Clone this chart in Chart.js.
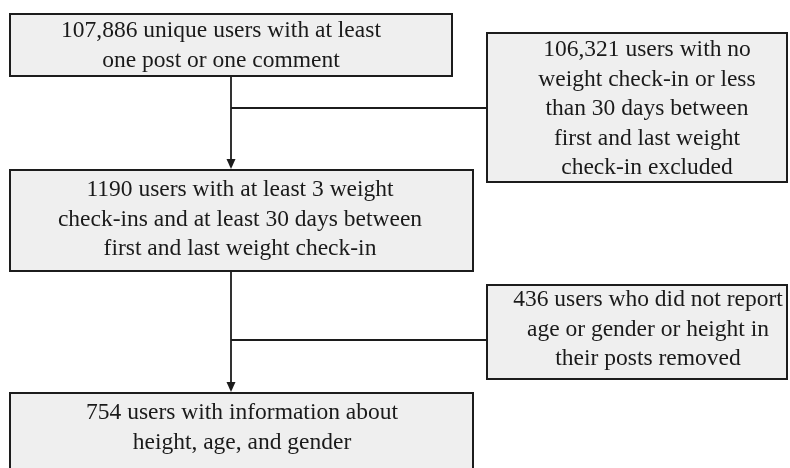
<!DOCTYPE html>
<html>
<head>
<meta charset="utf-8">
<script src="https://cdn.jsdelivr.net/npm/chart.js@4"></script>
<style>
html,body{margin:0;padding:0;background:#fff;}
#wrap{width:790px;height:468px;position:relative;}
</style>
</head>
<body>
<div id="wrap"><canvas id="c" width="790" height="468"></canvas></div>
<script>
// ---- data ----
const stageCounts = [107886, 1190, 754];
const stageTexts = [
  ["{n} unique users with at least", "one post or one comment"],
  ["{n} users with at least 3 weight", "check-ins and at least 30 days between", "first and last weight check-in"],
  ["{n} users with information about", "height, age, and gender"]
];
const excludedCounts = [106321, 436];
const excludedTexts = [
  ["{n} users with no", "weight check-in or less", "than 30 days between", "first and last weight", "check-in excluded"],
  ["{n} users who did not report", "age or gender or height in", "their posts removed"]
];

// ---- layout (positions in chart units, separate from data) ----
const stageBoxes = [
  {x0: 10, x1: 452, y0: 14, y1: 76, tx: 221, ty: 31},
  {x0: 10, x1: 473, y0: 170, y1: 271, tx: 240, ty: 190},
  {x0: 10, x1: 473, y0: 393, y1: 480, tx: 242, ty: 413}
];
const excludedBoxes = [
  {x0: 487, x1: 787, y0: 33, y1: 182, tx: 647, ty: 50},
  {x0: 487, x1: 787, y0: 285, y1: 379, tx: 648, ty: 300}
];
const trunkX = 231;
const branchY = [108, 340];
const lineH = 29.5;

function fmt(n){ return n >= 10000 ? n.toLocaleString('en-US') : String(n); }

const flowPlugin = {
  id: 'flow',
  afterDatasetsDraw(chart){
    const ctx = chart.ctx, xs = chart.scales.x, ys = chart.scales.y;
    const X = v => xs.getPixelForValue(v), Y = v => ys.getPixelForValue(v);
    ctx.save();
    ctx.strokeStyle = '#1c1c1c';
    ctx.fillStyle = '#1c1c1c';
    ctx.lineWidth = 1.8;
    function arrowDown(x, yFrom, yTo){
      ctx.beginPath(); ctx.moveTo(X(x), Y(yFrom)); ctx.lineTo(X(x), Y(yTo) - 9); ctx.stroke();
      ctx.beginPath();
      ctx.moveTo(X(x) - 4.5, Y(yTo) - 11);
      ctx.lineTo(X(x) + 4.5, Y(yTo) - 11);
      ctx.lineTo(X(x), Y(yTo) - 1);
      ctx.closePath(); ctx.fill();
    }
    for (let i = 0; i < stageBoxes.length - 1; i++){
      arrowDown(trunkX, stageBoxes[i].y1, stageBoxes[i+1].y0);
      ctx.beginPath();
      ctx.moveTo(X(trunkX), Y(branchY[i]));
      ctx.lineTo(X(excludedBoxes[i].x0), Y(branchY[i]));
      ctx.stroke();
    }
    function drawBox(b, lines, n){
      ctx.fillStyle = '#efefef';
      ctx.fillRect(X(b.x0), Y(b.y0), X(b.x1) - X(b.x0), Y(b.y1) - Y(b.y0));
      ctx.strokeStyle = '#1c1c1c';
      ctx.lineWidth = 2;
      ctx.strokeRect(X(b.x0), Y(b.y0), X(b.x1) - X(b.x0), Y(b.y1) - Y(b.y0));
      ctx.fillStyle = '#1a1a1a';
      ctx.font = '23.5px "Liberation Serif", "Times New Roman", serif';
      ctx.textAlign = 'center';
      ctx.textBaseline = 'middle';
      lines.forEach((t, k) => {
        ctx.fillText(t.replace('{n}', fmt(n)), X(b.tx), Y(b.ty + k * lineH));
      });
    }
    stageBoxes.forEach((b, i) => drawBox(b, stageTexts[i], stageCounts[i]));
    excludedBoxes.forEach((b, i) => drawBox(b, excludedTexts[i], excludedCounts[i]));
    ctx.restore();
  }
};

new Chart(document.getElementById('c'), {
  type: 'scatter',
  data: {
    datasets: [{
      label: 'stages',
      data: stageCounts.map((n, i) => ({x: stageBoxes[i].tx, y: stageBoxes[i].ty, n})),
      pointRadius: 0, pointHoverRadius: 0
    }, {
      label: 'excluded',
      data: excludedCounts.map((n, i) => ({x: excludedBoxes[i].tx, y: excludedBoxes[i].ty, n})),
      pointRadius: 0, pointHoverRadius: 0
    }]
  },
  options: {
    responsive: false,
    animation: false,
    devicePixelRatio: 1,
    layout: {padding: 0},
    plugins: {legend: {display: false}, tooltip: {enabled: false}},
    events: [],
    scales: {
      x: {type: 'linear', min: 0, max: 790, display: false},
      y: {type: 'linear', min: 0, max: 468, reverse: true, display: false}
    }
  },
  plugins: [flowPlugin]
});
</script>
</body>
</html>
